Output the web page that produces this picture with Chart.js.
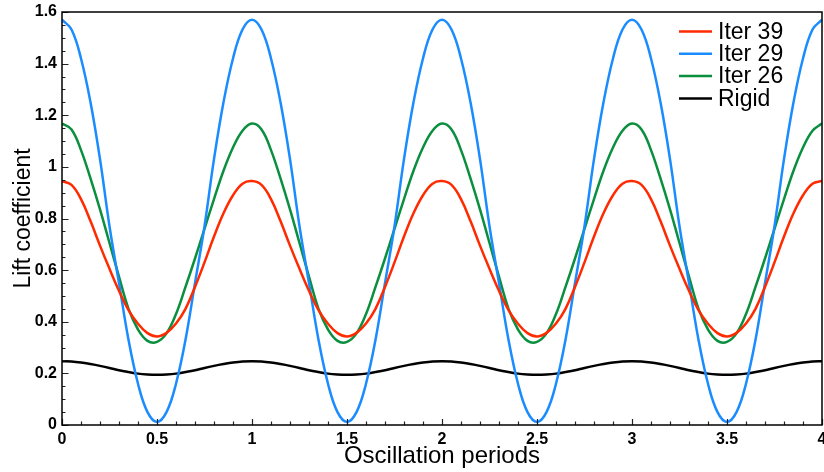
<!DOCTYPE html>
<html>
<head>
<meta charset="utf-8">
<script src="https://cdn.jsdelivr.net/npm/chart.js@4.4.1/dist/chart.umd.min.js"></script>
<style>
html, body { margin: 0; padding: 0; background: #fff; }
#wrap { width: 824px; height: 472px; }
</style>
</head>
<body>
<div id="wrap"><canvas id="liftChart"></canvas></div>
<script>
// x positions (oscillation periods)
const periods = [
    0.00, 0.05, 0.10, 0.15, 0.20, 0.25, 0.30, 0.35, 0.40, 0.45,
    0.50, 0.55, 0.60, 0.65, 0.70, 0.75, 0.80, 0.85, 0.90, 0.95,
    1.00, 1.05, 1.10, 1.15, 1.20, 1.25, 1.30, 1.35, 1.40, 1.45,
    1.50, 1.55, 1.60, 1.65, 1.70, 1.75, 1.80, 1.85, 1.90, 1.95,
    2.00, 2.05, 2.10, 2.15, 2.20, 2.25, 2.30, 2.35, 2.40, 2.45,
    2.50, 2.55, 2.60, 2.65, 2.70, 2.75, 2.80, 2.85, 2.90, 2.95,
    3.00, 3.05, 3.10, 3.15, 3.20, 3.25, 3.30, 3.35, 3.40, 3.45,
    3.50, 3.55, 3.60, 3.65, 3.70, 3.75, 3.80, 3.85, 3.90, 3.95,
    4.00
];

// valores
const iter39 = [
    0.945, 0.93, 0.875, 0.79, 0.695, 0.605, 0.52, 0.445, 0.392, 0.356,
    0.343, 0.357, 0.393, 0.45, 0.535, 0.63, 0.73, 0.82, 0.89, 0.935,
    0.945, 0.93, 0.875, 0.79, 0.695, 0.605, 0.52, 0.445, 0.392, 0.356,
    0.343, 0.357, 0.393, 0.45, 0.535, 0.63, 0.73, 0.82, 0.89, 0.935,
    0.945, 0.93, 0.875, 0.79, 0.695, 0.605, 0.52, 0.445, 0.392, 0.356,
    0.343, 0.357, 0.393, 0.45, 0.535, 0.63, 0.73, 0.82, 0.89, 0.935,
    0.945, 0.93, 0.875, 0.79, 0.695, 0.605, 0.52, 0.445, 0.392, 0.356,
    0.343, 0.357, 0.393, 0.45, 0.535, 0.63, 0.73, 0.82, 0.89, 0.935,
    0.945
];

const iter29 = [
    1.57, 1.532, 1.42, 1.25, 1.03, 0.77, 0.55, 0.33, 0.16, 0.05,
    0.012, 0.05, 0.16, 0.33, 0.55, 0.77, 1.03, 1.25, 1.42, 1.532,
    1.57, 1.532, 1.42, 1.25, 1.03, 0.77, 0.55, 0.33, 0.16, 0.05,
    0.012, 0.05, 0.16, 0.33, 0.55, 0.77, 1.03, 1.25, 1.42, 1.532,
    1.57, 1.532, 1.42, 1.25, 1.03, 0.77, 0.55, 0.33, 0.16, 0.05,
    0.012, 0.05, 0.16, 0.33, 0.55, 0.77, 1.03, 1.25, 1.42, 1.532,
    1.57, 1.532, 1.42, 1.25, 1.03, 0.77, 0.55, 0.33, 0.16, 0.05,
    0.012, 0.05, 0.16, 0.33, 0.55, 0.77, 1.03, 1.25, 1.42, 1.532,
    1.57
];

const iter26 = [
    1.168, 1.145, 1.065, 0.955, 0.835, 0.705, 0.575, 0.45, 0.37, 0.326,
    0.322, 0.355, 0.43, 0.535, 0.645, 0.76, 0.875, 0.985, 1.075, 1.14,
    1.168, 1.145, 1.065, 0.955, 0.835, 0.705, 0.575, 0.45, 0.37, 0.326,
    0.322, 0.355, 0.43, 0.535, 0.645, 0.76, 0.875, 0.985, 1.075, 1.14,
    1.168, 1.145, 1.065, 0.955, 0.835, 0.705, 0.575, 0.45, 0.37, 0.326,
    0.322, 0.355, 0.43, 0.535, 0.645, 0.76, 0.875, 0.985, 1.075, 1.14,
    1.168, 1.145, 1.065, 0.955, 0.835, 0.705, 0.575, 0.45, 0.37, 0.326,
    0.322, 0.355, 0.43, 0.535, 0.645, 0.76, 0.875, 0.985, 1.075, 1.14,
    1.168
];

const rigid = [
    0.247, 0.246, 0.242, 0.236, 0.229, 0.221, 0.212, 0.205, 0.199, 0.196,
    0.195, 0.196, 0.199, 0.205, 0.212, 0.221, 0.229, 0.236, 0.242, 0.246,
    0.247, 0.246, 0.242, 0.236, 0.229, 0.221, 0.212, 0.205, 0.199, 0.196,
    0.195, 0.196, 0.199, 0.205, 0.212, 0.221, 0.229, 0.236, 0.242, 0.246,
    0.247, 0.246, 0.242, 0.236, 0.229, 0.221, 0.212, 0.205, 0.199, 0.196,
    0.195, 0.196, 0.199, 0.205, 0.212, 0.221, 0.229, 0.236, 0.242, 0.246,
    0.247, 0.246, 0.242, 0.236, 0.229, 0.221, 0.212, 0.205, 0.199, 0.196,
    0.195, 0.196, 0.199, 0.205, 0.212, 0.221, 0.229, 0.236, 0.242, 0.246,
    0.247
];

const seriesLabels = ['Iter 39', 'Iter 29', 'Iter 26', 'Rigid'];
const seriesColors = ['#ff2a00', '#1a8cff', '#0a8f3f', '#000000'];
const seriesValues = [iter39, iter29, iter26, rigid];

const FONT = '"Liberation Sans", Arial, Helvetica, sans-serif';

// ticks para dentro + moldura
const framePlugin = {
    id: 'frame',
    afterDraw(chart) {
        const { ctx, chartArea: a, scales } = chart;
        ctx.save();
        ctx.strokeStyle = '#222';
        ctx.lineWidth = 1.2;
        ctx.beginPath();
        for (let i = 0; i <= 40; i++) {
            const v = i / 10;
            const px = Math.round(scales.x.getPixelForValue(v)) + 0.5;
            const len = i % 5 === 0 ? 6 : 3.5;
            ctx.moveTo(px, a.bottom);
            ctx.lineTo(px, a.bottom - len);
        }
        for (let i = 0; i <= 32; i++) {
            const v = i * 0.05;
            const py = Math.round(scales.y.getPixelForValue(v)) + 0.5;
            const len = i % 4 === 0 ? 6.5 : 3.5;
            ctx.moveTo(a.left, py);
            ctx.lineTo(a.left + len, py);
        }
        ctx.stroke();

        ctx.strokeStyle = '#000';
        ctx.lineWidth = 1.5;
        ctx.strokeRect(a.left, a.top, a.right - a.left, a.bottom - a.top);
        ctx.restore();
    }
};

// legenda dentro do gráfico (canto superior direito)
const legendPlugin = {
    id: 'insideLegend',
    afterDraw(chart) {
        const ctx = chart.ctx;
        ctx.save();
        ctx.font = '23px ' + FONT;
        ctx.textBaseline = 'middle';
        ctx.fillStyle = '#000';
        chart.data.datasets.forEach((ds, i) => {
            const y = 31.5 + i * 22.3;
            ctx.strokeStyle = ds.borderColor;
            ctx.lineWidth = 2.5;
            ctx.beginPath();
            ctx.moveTo(679, y);
            ctx.lineTo(712, y);
            ctx.stroke();
            ctx.fillText(ds.label, 718, y + 1);
        });
        ctx.restore();
    }
};

const shortNum = v => String(Number(v.toFixed(2)));

new Chart(document.getElementById('liftChart'), {
    type: 'line',
    data: {
        datasets: seriesLabels.map((label, i) => ({
            label: label,
            data: periods.map((p, k) => ({ x: p, y: seriesValues[i][k] })),
            borderColor: seriesColors[i],
            borderWidth: 2.5,
            pointRadius: 0,
            fill: false,
            tension: 0.4
        }))
    },
    options: {
        responsive: true,
        maintainAspectRatio: false,
        animation: false,
        layout: { padding: { top: 12, right: 2, left: 0, bottom: 0 } },
        plugins: {
            legend: { display: false },
            tooltip: { enabled: false }
        },
        scales: {
            x: {
                type: 'linear',
                min: 0,
                max: 4,
                grid: { display: false, drawTicks: false },
                border: { display: false },
                ticks: {
                    stepSize: 0.5,
                    padding: 5,
                    color: '#000',
                    font: { family: FONT, size: 16, weight: 'bold' },
                    maxRotation: 0,
                    callback: shortNum
                },
                title: {
                    display: true,
                    text: 'Oscillation periods',
                    color: '#000',
                    font: { family: FONT, size: 24 },
                    padding: { top: 0, bottom: 1 }
                },
                afterFit(scale) {
                    scale.height = 47;
                    scale.paddingLeft = 0;
                    scale.paddingRight = 0;
                }
            },
            y: {
                min: 0,
                max: 1.6,
                grid: { display: false, drawTicks: false },
                border: { display: false },
                ticks: {
                    stepSize: 0.2,
                    padding: 5,
                    color: '#000',
                    font: { family: FONT, size: 16, weight: 'bold' },
                    callback: shortNum
                },
                title: {
                    display: true,
                    text: 'Lift coefficient',
                    color: '#000',
                    font: { family: FONT, size: 23 },
                    padding: { top: 10, bottom: 0 }
                },
                afterFit(scale) {
                    scale.width = 62;
                    scale.paddingTop = 0;
                    scale.paddingBottom = 0;
                }
            }
        }
    },
    plugins: [framePlugin, legendPlugin]
});
</script>
</body>
</html>
